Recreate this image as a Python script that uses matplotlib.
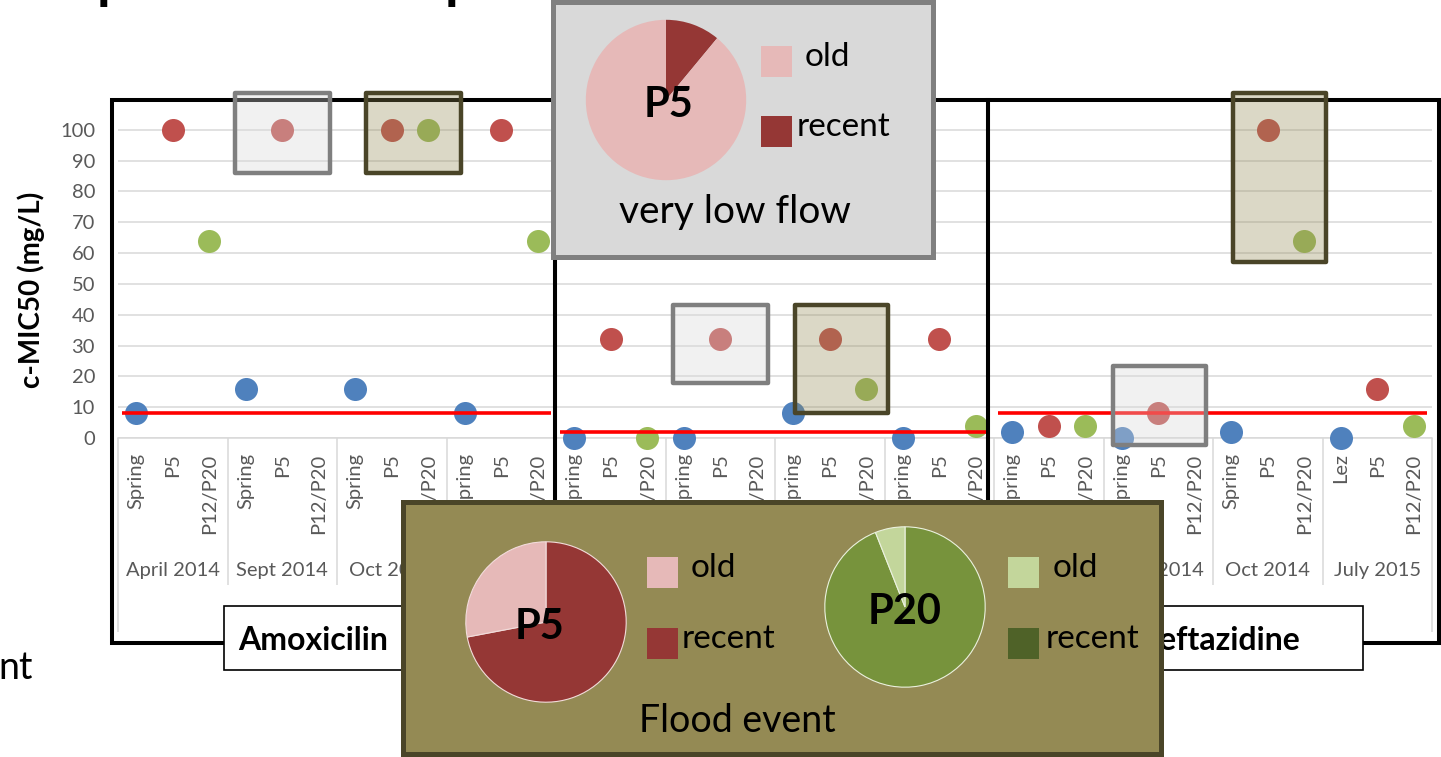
import numpy as np
import matplotlib.pyplot as plt
from matplotlib.patches import Rectangle

plt.rcParams['font.family'] = ['Lato', 'DejaVu Sans']

W, H = 1441, 757

# sampling campaigns and sites, repeated for each antibiotic panel
campaigns = ['April 2014', 'Sept 2014', 'Oct 2014', 'July 2015']
sites = ['Spring', 'P5', 'P12/P20']
n_panels = 3
site_labels = sites * (len(campaigns) * n_panels)
site_labels[-3] = 'Lez'
panel_names = {0: 'Amoxicilin', 2: 'Ceftazidine'}

# c-MIC50 (mg/L) per campaign, panels left to right
spring_mic = [8, 16, 16, 8, 0, 0, 8, 0, 2, 0, 2, 0]
p5_mic = [100, 100, 100, 100, 32, 32, 32, 32, 4, 8, 100, 16]
p12_mic = [64, np.nan, 100, 64, 0, np.nan, 16, 4, 4, np.nan, 64, 4]
breakpoints = [8, 2, 8]

# share of old / recent water
pie_parts = ['recent', 'old']
p5_low_flow = [11, 89]
p5_flood = [72, 28]
p20_flood = [94, 6]

# highlighted samples (category span, value span)
low_flow_boxes = [(2.7, 5.3, 86, 112), (14.7, 17.3, 18, 43), (26.75, 29.3, -2.3, 23.4)]
flood_boxes = [(6.3, 8.9, 86, 112), (18.05, 20.6, 8, 43), (30.05, 32.6, 57, 112)]

blue, red, green = '#4F81BD', '#C0504D', '#9BBB59'
grid_c, text_c = '#D9D9D9', '#595959'

fig = plt.figure(figsize=(W / 100, H / 100), dpi=100)
fig.patch.set_facecolor('white')

ax = fig.add_axes([118 / W, (H - 438) / H, 1314 / W, 339 / H])
groups = np.arange(len(spring_mic)) * 3
ax.scatter(groups, spring_mic, s=275, color=blue, linewidths=0, zorder=3, clip_on=False)
ax.scatter(groups + 1, p5_mic, s=275, color=red, linewidths=0, zorder=3, clip_on=False)
ax.scatter(groups + 2, p12_mic, s=275, color=green, linewidths=0, zorder=3, clip_on=False)

for p, bp in enumerate(breakpoints):
    ax.hlines(bp, 12 * p - 0.4, 12 * p + 11.35, color='#FF0000', lw=2.6, zorder=4, clip_on=False)

ax.set_xlim(-0.5, 35.5)
ax.set_ylim(0, 110)
ax.set_yticks(range(0, 101, 10))
ax.set_xticks(np.arange(len(site_labels)))
ax.set_xticklabels(site_labels, rotation=90)
ax.yaxis.grid(True, color=grid_c, lw=1.1)
ax.set_axisbelow(True)
for side in ['left', 'top', 'right']:
    ax.spines[side].set_visible(False)
ax.spines['bottom'].set_color(grid_c)
ax.spines['bottom'].set_linewidth(1.1)
ax.tick_params(axis='x', length=0, pad=11, labelsize=14.5, labelcolor=text_c)
ax.tick_params(axis='y', length=0, pad=16.5, labelsize=14.5, labelcolor=text_c)

# multi-level category axis: separators and campaign names
bounds = np.arange(0, 37, 3) - 0.5
ax.vlines(bounds[1:-1], -47.7, 0, color=grid_c, lw=1.1, clip_on=False)
ax.vlines([bounds[0], bounds[-1]], -63, 0, color=grid_c, lw=1.1, clip_on=False)
for g in range(len(spring_mic)):
    ax.text(3 * g + 1, -43, campaigns[g % 4], ha='center', va='center',
            fontsize=14.5, color=text_c)

# overlay in pixel coordinates (y down)
ov = fig.add_axes([0, 0, 1, 1], zorder=5)
ov.set_xlim(0, W)
ov.set_ylim(H, 0)
ov.set_axis_off()

ov.text(31, 290, 'c-MIC50 (mg/L)', rotation=90, ha='center', va='center',
        fontsize=20, fontweight='bold')

# antibiotic panels
for x0, x1 in [(112, 555), (555, 988), (988, 1439)]:
    ov.add_patch(Rectangle((x0, 100), x1 - x0, 543, fill=False, ec='black', lw=2.9, zorder=2))

for (x0, x1, y0, y1) in low_flow_boxes:
    ov.add_patch(Rectangle((x0, y0), x1 - x0, y1 - y0, transform=ax.transData,
                           fc='#D9D9D9', alpha=0.35, ec='none', zorder=3, clip_on=False))
    ov.add_patch(Rectangle((x0, y0), x1 - x0, y1 - y0, transform=ax.transData,
                           fill=False, ec='#7F7F7F', lw=3.2, joinstyle='round', zorder=3, clip_on=False))
for (x0, x1, y0, y1) in flood_boxes:
    ov.add_patch(Rectangle((x0, y0), x1 - x0, y1 - y0, transform=ax.transData,
                           fc='#948A54', alpha=0.33, ec='none', zorder=3, clip_on=False))
    ov.add_patch(Rectangle((x0, y0), x1 - x0, y1 - y0, transform=ax.transData,
                           fill=False, ec='#4A4528', lw=3.2, joinstyle='round', zorder=3, clip_on=False))

# panel names
ov.add_patch(Rectangle((224, 606), 250, 64, fc='white', ec='black', lw=1.2, zorder=4))
ov.text(238, 640, panel_names[0], ha='left', va='center', fontsize=23, fontweight='bold', zorder=4)
ov.add_patch(Rectangle((1090, 606), 273, 64, fc='white', ec='black', lw=1.2, zorder=4))
ov.text(1300, 640, panel_names[2], ha='right', va='center', fontsize=23, fontweight='bold', zorder=4)

# slide text cut at the edges
for px in [97, 445]:
    ov.text(px, -2, 'p', fontsize=40, fontweight='bold', va='baseline', ha='left')
ov.text(-2, 668, 'nt', fontsize=27, va='center', ha='left')


def add_pie(cx, cy, r, values, colors, label, edge, dx=0.0):
    pa = fig.add_axes([(cx - r) / W, (H - cy - r) / H, 2 * r / W, 2 * r / H], zorder=7)
    pa.pie(values, colors=colors, startangle=90, counterclock=False, radius=1,
           wedgeprops=dict(edgecolor=edge, linewidth=0.8))
    pa.set_xlim(-1.01, 1.01)
    pa.set_ylim(-1.01, 1.01)
    pa.set_axis_off()
    pa.text(dx, -0.06, label, ha='center', va='center', fontsize=30, fontweight='bold')


def add_legend(x, y_old, y_recent, colors, text_dx):
    for y, c, name, dx in [(y_old, colors[0], 'old', text_dx[0]),
                           (y_recent, colors[1], 'recent', text_dx[1])]:
        ov.add_patch(Rectangle((x, y), 31, 31, fc=c, ec='none', zorder=7))
        ov.text(x + dx, y + 11, name, ha='left', va='center', fontsize=24, zorder=7)


# very low flow
ov.add_patch(Rectangle((553, 2), 380, 255, fc='#D9D9D9', ec='#808080', lw=3.6, zorder=6))
add_pie(666, 100, 81, p5_low_flow, ['#953735', '#E6B9B8'], 'P5', 'none', dx=0.03)
add_legend(761, 46, 116, ['#E6B9B8', '#953735'], (44, 36))
ov.text(735, 212, 'very low flow', ha='center', va='center', fontsize=28, zorder=7)

# flood event
ov.add_patch(Rectangle((403, 502), 758, 252, fc='#948A54', ec='#4A4528', lw=3.6, zorder=6))
add_pie(546, 622, 81, p5_flood, ['#953735', '#E6B9B8'], 'P5', '#F2DCDB', dx=-0.08)
add_legend(647, 557, 628, ['#E6B9B8', '#953735'], (44, 35))
add_pie(905, 607, 81, p20_flood, ['#77933C', '#C3D69B'], 'P20', '#EBF1DE')
add_legend(1008, 557, 628, ['#C3D69B', '#4F6228'], (45, 38))
ov.text(737, 721, 'Flood event', ha='center', va='center', fontsize=27, zorder=7)

fig.savefig('out.png', dpi=100)
